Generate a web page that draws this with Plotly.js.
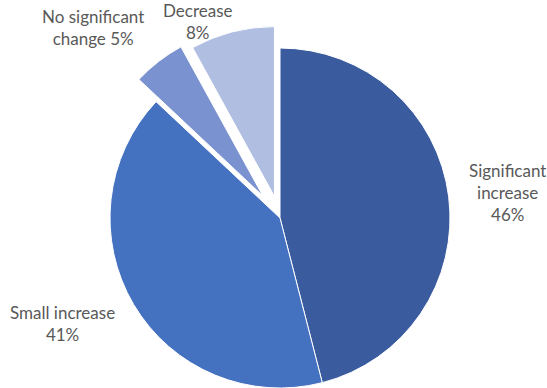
<!DOCTYPE html>
<html>
<head>
<meta charset="utf-8">
<script src="https://cdn.plot.ly/plotly-3.0.1.min.js"></script>
<style>
  html, body { margin: 0; padding: 0; overflow: hidden; background: #fff; }
  #chart { width: 547px; height: 420px; }
</style>
</head>
<body>
<div id="chart"></div>
<script>
// ---- data ----
var categories = ["Significant increase", "Small increase", "No significant change", "Decrease"];
var values = [46, 41, 5, 8];
// label text as drawn (line-wrapped), and the separator before the percentage
var labelLines = ["Significant<br>increase", "Small increase", "No significant<br>change", "Decrease"];
var pctSeparator = ["<br>", "<br>", " ", "<br>"];

// ---- style / layout ----
var colors = ["#3a5b9e", "#4571c1", "#7a93d0", "#b0bee2"];
var pulls = [0, 0, 0.165, 0.13];
var W = 547, H = 420;
var cx = 280, cy = 218, r = 170;
var maxPull = Math.max.apply(null, pulls);
var half = r * (1 + maxPull);
var labelPos = [[507, 193], [62, 323], [93, 28], [198, 21]];

var total = values.reduce(function (a, b) { return a + b; }, 0);
var annotations = categories.map(function (c, i) {
  var pct = Math.round(values[i] / total * 100) + "%";
  return {
    text: labelLines[i] + pctSeparator[i] + pct,
    xref: "paper", yref: "paper",
    x: labelPos[i][0] / W, y: 1 - labelPos[i][1] / H,
    xanchor: "center", yanchor: "middle",
    showarrow: false, align: "center",
    font: { family: "Lato, 'Open Sans', sans-serif", size: 17, color: "#595959" }
  };
});

var trace = {
  type: "pie",
  labels: categories,
  values: values,
  sort: false,
  direction: "clockwise",
  rotation: 0,
  pull: pulls,
  textinfo: "none",
  hoverinfo: "label+percent",
  marker: { colors: colors, line: { color: "#ffffff", width: 1 } },
  domain: {
    x: [(cx - half) / W, (cx + half) / W],
    y: [1 - (cy + half) / H, 1 - (cy - half) / H]
  }
};

Plotly.newPlot("chart", [trace], {
  width: W, height: H,
  margin: { l: 0, r: 0, t: 0, b: 0 },
  showlegend: false,
  paper_bgcolor: "#ffffff",
  annotations: annotations
}, { displayModeBar: false, staticPlot: true });
</script>
</body>
</html>
